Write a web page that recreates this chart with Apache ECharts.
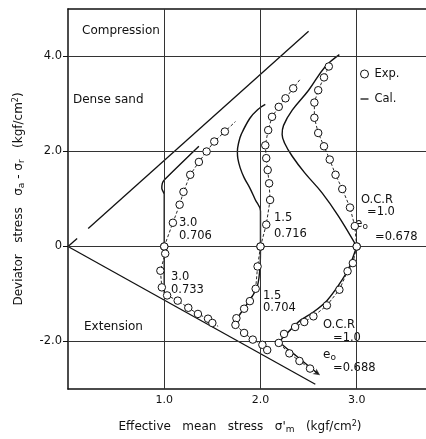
<!DOCTYPE html>
<html>
<head>
<meta charset="utf-8">
<script src="https://cdn.jsdelivr.net/npm/echarts@6/dist/echarts.min.js"></script>
<style>
  html, body { margin: 0; padding: 0; background: #fff; }
  #chart { width: 426px; height: 439px; }
</style>
</head>
<body>
<div id="chart"></div>
<script>
// Axis ticks (kgf/cm2)
const xTicks = [1, 2, 3];
const yTicks = [-2, 0, 2, 4];

// Failure lines through the origin
const failComp = [[0, 0], [0.095, 0.17]];
const failComp2 = [[0.21, 0.38], [2.5, 4.53]];
const failExt = [[0, 0], [2.57, -2.9]];

// Compression side: measured (sigma'm, sigma_a - sigma_r)
const expComp706 = [[1.0, 0], [1.09, 0.50], [1.16, 0.88], [1.20, 1.15], [1.27, 1.51], [1.36, 1.78], [1.44, 2.00], [1.52, 2.21], [1.63, 2.42]];
const expComp706Tail = [1.74, 2.63];
const expComp716 = [[2.0, 0], [2.06, 0.46], [2.10, 0.98], [2.09, 1.33], [2.075, 1.61], [2.06, 1.86], [2.05, 2.13], [2.08, 2.45], [2.12, 2.73], [2.19, 2.94], [2.26, 3.12], [2.34, 3.33]];
const expComp716Tail = [2.42, 3.54];
const expComp678 = [[3.0, 0], [2.98, 0.43], [2.93, 0.82], [2.85, 1.21], [2.78, 1.51], [2.72, 1.83], [2.66, 2.11], [2.60, 2.39], [2.56, 2.71], [2.56, 3.03], [2.60, 3.29], [2.66, 3.56], [2.71, 3.79]];

// Compression side: calculated
const calComp706 = [[1.0, 0], [1.0, 1.1], [0.975, 1.22], [0.98, 1.33], [1.0, 1.40], [1.36, 2.11]];
const calComp716 = [[2.0, 0], [2.0, 0.4], [2.0, 0.75], [1.945, 0.99], [1.89, 1.23], [1.83, 1.45], [1.79, 1.65], [1.765, 1.85], [1.76, 2.0], [1.775, 2.2], [1.80, 2.36], [1.89, 2.70], [1.97, 2.88], [2.05, 2.99]];
const calComp678 = [[3.0, 0], [2.81, 0.64], [2.64, 1.13], [2.46, 1.55], [2.33, 1.90], [2.25, 2.18], [2.225, 2.36], [2.24, 2.55], [2.33, 2.87], [2.50, 3.29], [2.67, 3.78], [2.82, 4.04]];

// Extension side: measured
const expExt733 = [[1.0, 0], [1.01, -0.15], [0.96, -0.51], [0.975, -0.86], [1.03, -1.03], [1.14, -1.14], [1.25, -1.29], [1.35, -1.42], [1.455, -1.52], [1.50, -1.61]];
const expExt733Tail = [1.56, -1.68];
const expExt704 = [[2.0, 0], [1.97, -0.42], [1.95, -0.89], [1.89, -1.15], [1.83, -1.31], [1.75, -1.51], [1.74, -1.65], [1.83, -1.82], [1.92, -1.96], [2.02, -2.07], [2.07, -2.18]];
const expExt688 = [[3.0, 0], [2.96, -0.35], [2.905, -0.52], [2.82, -0.91], [2.69, -1.24], [2.55, -1.47], [2.455, -1.59], [2.36, -1.695], [2.245, -1.84], [2.19, -2.03], [2.30, -2.25], [2.405, -2.41], [2.515, -2.57]];
const expExt688Tail = [2.60, -2.68];

// Extension side: calculated
const calExt733 = [[1.0, 0], [1.0, -0.98]];
const calExt704 = [[2.0, 0], [1.997, -0.37], [1.965, -0.86], [1.89, -1.12], [1.79, -1.42], [1.75, -1.55]];
const calExt688 = [[3.0, 0], [2.915, -0.47], [2.81, -0.82], [2.69, -1.14], [2.55, -1.38], [2.41, -1.56], [2.27, -1.84], [2.205, -2.0], [2.37, -2.30], [2.60, -2.68]];
const calExt688Arrow = [2.62, -2.71];

const FONT = '"DejaVu Sans", sans-serif';
const INK = '#111';

function withTail(pts, tail) {
  const d = pts.slice();
  if (tail) d.push({ value: tail, symbol: 'none' });
  return d;
}

function expSeries(pts, tail) {
  return {
    name: 'Exp.', type: 'line', z: 5,
    data: withTail(pts, tail),
    symbol: 'circle', symbolSize: 7.5, showSymbol: true,
    itemStyle: { color: '#fff', borderColor: INK, borderWidth: 1 },
    lineStyle: { color: INK, width: 0.9, type: [3, 2] },
    animation: false, silent: true
  };
}

function calSeries(pts, smooth) {
  return {
    name: 'Cal.', type: 'line', z: 3,
    data: pts, smooth: smooth || 0,
    symbol: 'none', showSymbol: false,
    itemStyle: { color: INK },
    lineStyle: { color: INK, width: 1.4 },
    animation: false, silent: true
  };
}

function plainLine(pts) {
  return {
    type: 'line', z: 2, data: pts, symbol: 'none',
    lineStyle: { color: INK, width: 1.3 },
    animation: false, silent: true
  };
}

function txt(text, x, y, size, extra) {
  return Object.assign({
    type: 'text', x: x, y: y, silent: true,
    style: { text: text, fill: INK, font: (size || 11.5) + 'px ' + FONT, verticalAlign: 'middle' }
  }, extra || {});
}

function eo(x, y) {
  return {
    type: 'text', x: x, y: y, silent: true,
    style: {
      text: '{e|e}{o|o}', verticalAlign: 'middle', fill: INK,
      rich: {
        e: { font: '12px ' + FONT, fill: INK },
        o: { font: '9px ' + FONT, fill: INK, padding: [5, 0, 0, 0] }
      }
    }
  };
}

const chart = echarts.init(document.getElementById('chart'), null, { renderer: 'canvas' });

const gridLineSeries = {
  type: 'line', data: [], z: 1, silent: true, animation: false,
  markLine: {
    silent: true, symbol: 'none', animation: false,
    label: { show: false },
    lineStyle: { color: '#333', width: 1, type: 'solid' },
    data: xTicks.map(v => ({ xAxis: v })).concat(yTicks.map(v => ({ yAxis: v })))
  }
};

const arrowSeries = {
  type: 'scatter', z: 4, silent: true, animation: false,
  data: [calExt688Arrow],
  symbol: 'arrow', symbolSize: [5, 7], symbolRotate: -125,
  itemStyle: { color: INK }
};

chart.setOption({
  animation: false,
  backgroundColor: '#fff',
  grid: { left: 68, top: 9, right: 0, bottom: 46 },
  legend: {
    orient: 'vertical', left: 355, top: 63, itemGap: 13,
    itemWidth: 10, itemHeight: 8,
    textStyle: { fontFamily: FONT, fontSize: 11.5, color: INK },
    selectedMode: false,
    data: [
      { name: 'Exp.', icon: 'circle', itemStyle: { color: '#fff', borderColor: INK, borderWidth: 1 } },
      { name: 'Cal.', icon: 'path://M0,0M10,10M0,4.2H10V5.8H0Z', itemStyle: { color: INK } }
    ]
  },
  xAxis: [
    {
      type: 'value', min: 0, max: 3.72,
      name: "Effective   mean   stress   σ'{s|m}   (kgf/cm{p|2})",
      nameLocation: 'middle', nameGap: 30,
      nameTextStyle: {
        fontFamily: FONT, fontSize: 12, color: INK, padding: [0, 14, 0, 0],
        rich: { s: { fontSize: 9, padding: [6, 0, 0, 0] }, p: { fontSize: 8, padding: [0, 0, 6, 0] } }
      },
      axisLine: { show: true, onZero: false, lineStyle: { color: INK, width: 1.5 } },
      axisTick: { show: false },
      splitLine: { show: false },
      axisLabel: {
        customValues: xTicks, margin: 6,
        fontFamily: FONT, fontSize: 11, color: INK,
        formatter: v => v.toFixed(1)
      }
    },
    {
      type: 'value', min: 0, max: 3.72, position: 'top',
      axisLine: { show: true, onZero: false, lineStyle: { color: INK, width: 1.5 } },
      axisTick: { show: false }, axisLabel: { show: false }, splitLine: { show: false }
    }
  ],
  yAxis: {
    type: 'value', min: -3, max: 5,
    name: 'Deviator   stress   σ{s|a} - σ{s|r}   (kgf/cm{p|2})',
    nameLocation: 'middle', nameGap: 42, nameRotate: 90,
    nameTextStyle: {
      fontFamily: FONT, fontSize: 12, color: INK,
      rich: { s: { fontSize: 9, padding: [6, 0, 0, 0] }, p: { fontSize: 8, padding: [0, 0, 6, 0] } }
    },
    axisLine: { show: true, onZero: false, lineStyle: { color: INK, width: 1.5 } },
    axisTick: { show: true, customValues: yTicks, length: 5, lineStyle: { color: INK, width: 1 } },
    splitLine: { show: false },
    axisLabel: {
      customValues: yTicks, margin: 6,
      fontFamily: FONT, fontSize: 11.5, color: INK,
      formatter: v => (v === 0 ? '0' : v.toFixed(1))
    }
  },
  graphic: [
    txt('Compression', 82, 31, 12),
    txt('Dense sand', 73, 100, 12),
    txt('Extension', 84, 327, 12),
    txt('3.0', 179, 223), txt('0.706', 179, 236),
    txt('3.0', 171, 277), txt('0.733', 171, 290),
    txt('1.5', 274, 218), txt('0.716', 274, 234),
    txt('1.5', 263, 296), txt('0.704', 263, 308),
    txt('O.C.R', 361, 200), txt('=1.0', 367, 212),
    eo(355, 224), txt('=0.678', 375, 237),
    txt('O.C.R', 323, 325), txt('=1.0', 333, 338),
    eo(323, 355), txt('=0.688', 333, 368)
  ],
  series: [
    gridLineSeries,
    plainLine(failComp), plainLine(failComp2), plainLine(failExt),
    calSeries(calComp706, 0.2), calSeries(calComp716, 0.4), calSeries(calComp678, 0.4),
    calSeries(calExt733), calSeries(calExt704, 0.3), calSeries(calExt688, 0.2),
    arrowSeries,
    expSeries(expComp706, expComp706Tail), expSeries(expComp716, expComp716Tail), expSeries(expComp678),
    expSeries(expExt733, expExt733Tail), expSeries(expExt704), expSeries(expExt688, expExt688Tail)
  ]
});
</script>
</body>
</html>
